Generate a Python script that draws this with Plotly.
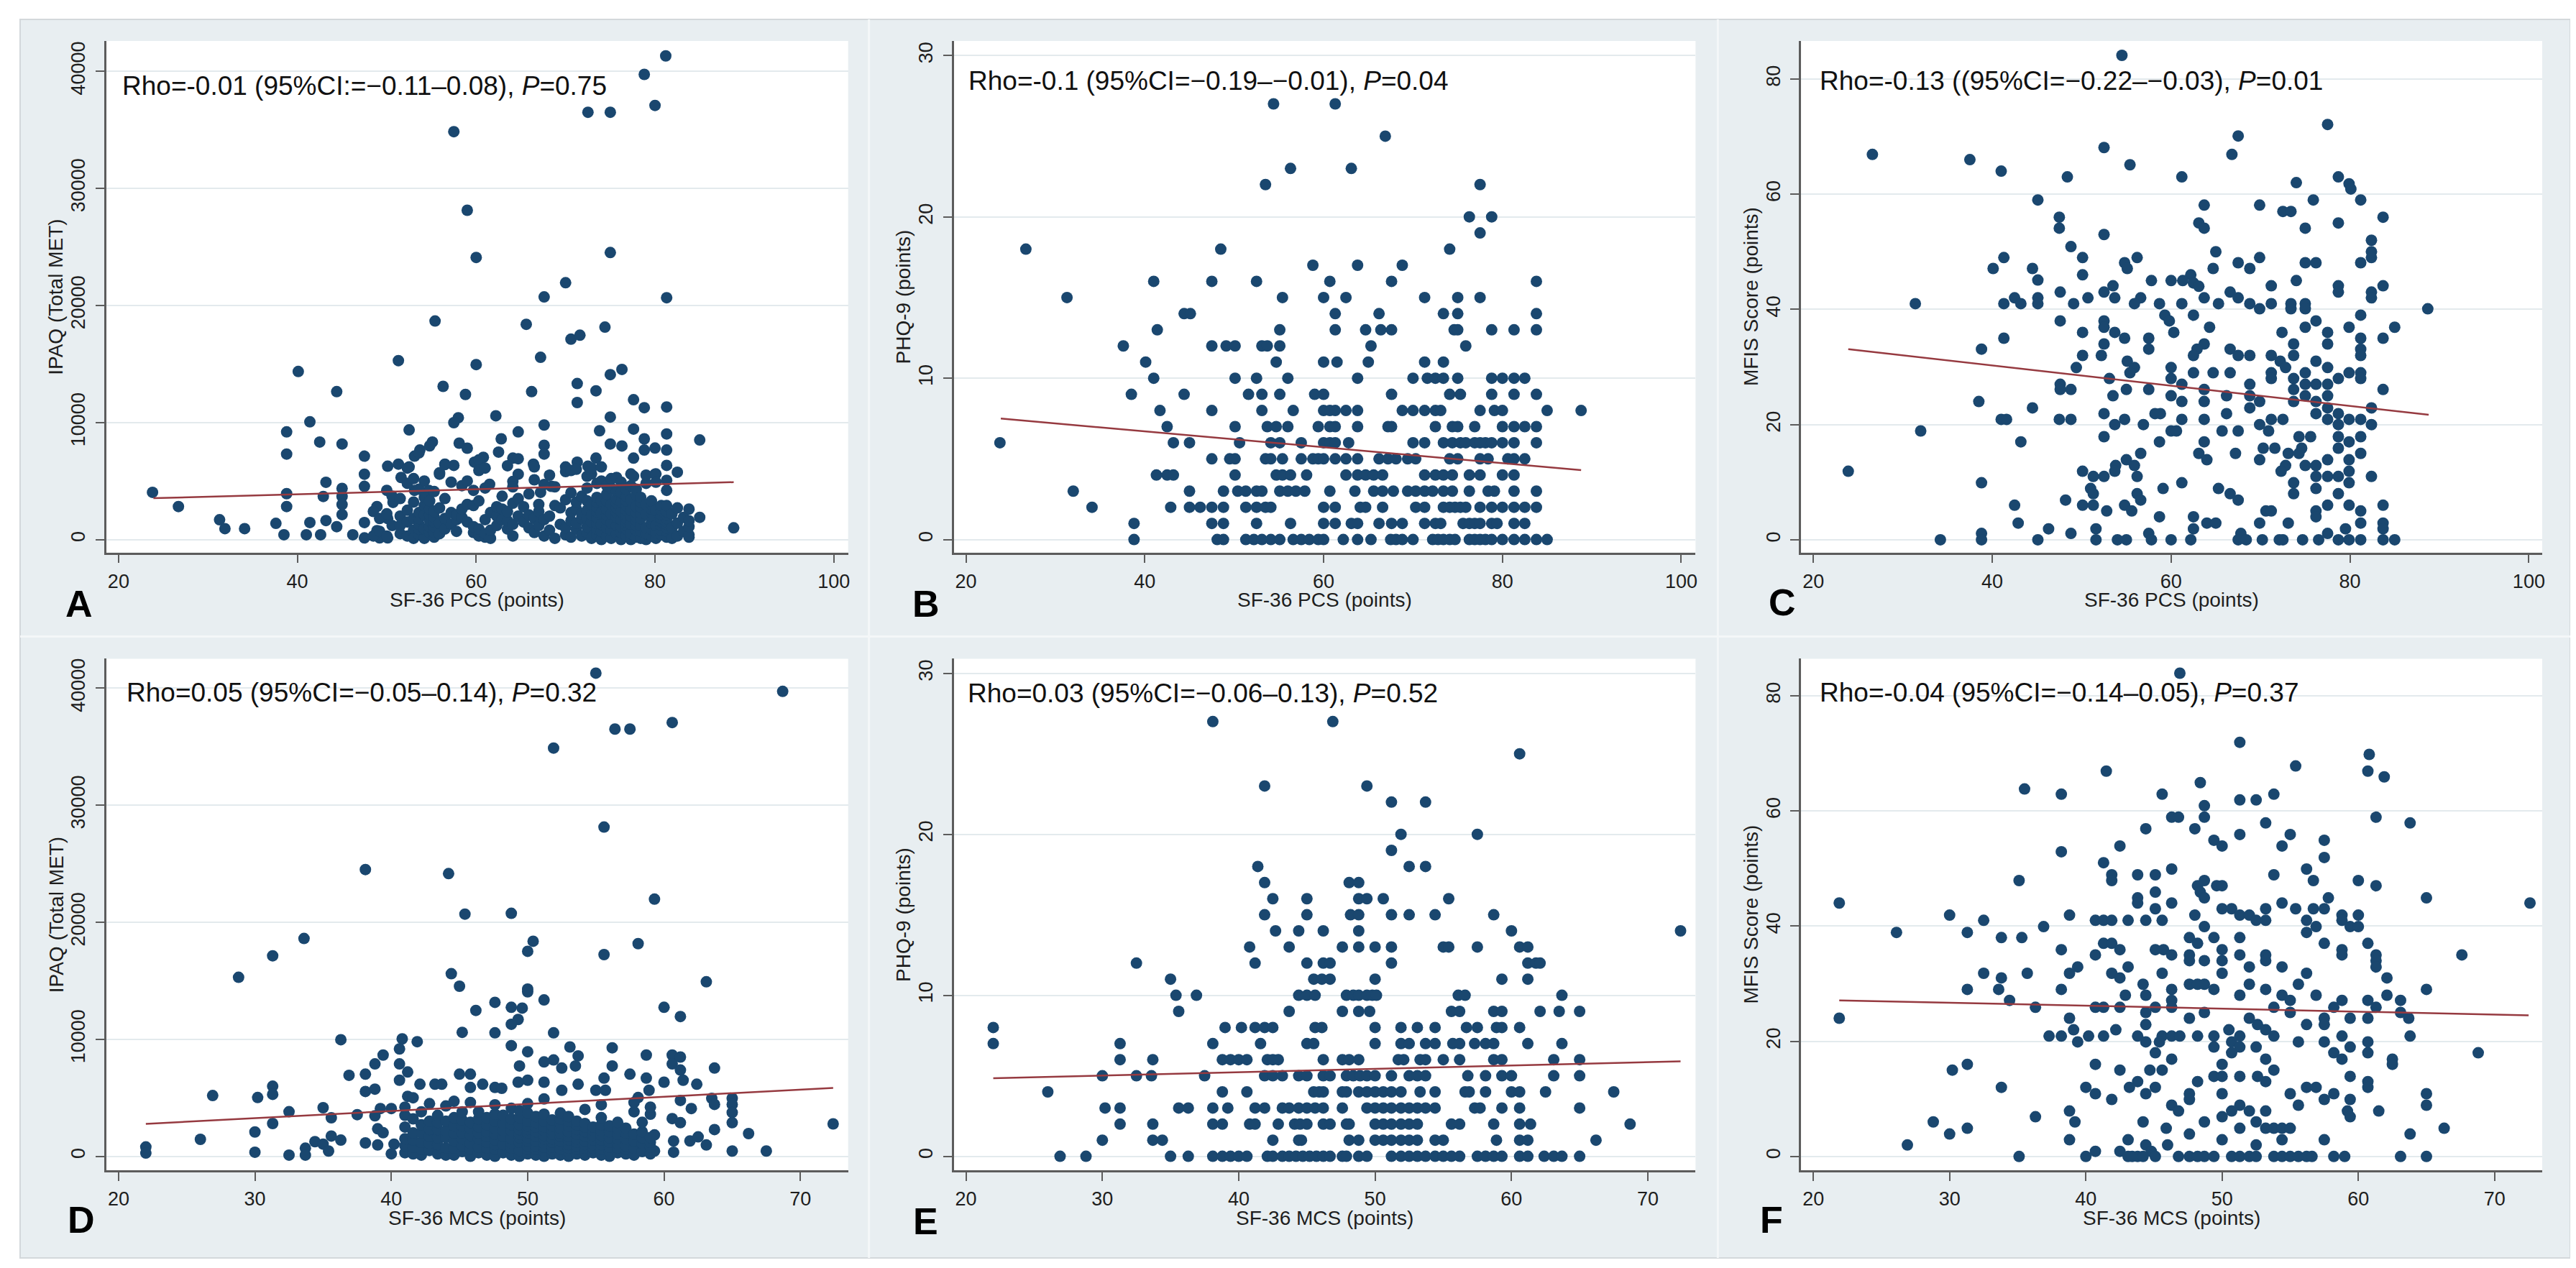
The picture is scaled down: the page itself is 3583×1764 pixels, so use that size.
import plotly.graph_objects as go

W, H = 3583, 1764

NAVY = "#1a476f"
MAROON = "#963a40"
PANEL_BG = "#e8eef1"
FONT = "Liberation Sans, Arial, sans-serif"

# ---------------- data ----------------
pcs_ticks = [20, 40, 60, 80, 100]
mcs_ticks = [20, 30, 40, 50, 60, 70]
ipaq_ticks = [0, 10000, 20000, 30000, 40000]
phq_ticks = [0, 10, 20, 30]
mfis_ticks = [0, 20, 40, 60, 80]

# A: IPAQ vs SF-36 PCS (isolated points)
a_pts = [(81.2, 41300), (78.8, 39720), (80.0, 37070), (72.5, 36490), (75.0, 36490), (57.5, 34830),
         (59.0, 28120), (60.0, 24090), (75.0, 24510), (70.0, 21930), (67.6, 20720), (81.3, 20650),
         (55.4, 18660), (65.6, 18380), (74.4, 18140), (70.6, 17110), (71.6, 17450), (67.2, 15560),
         (51.3, 15280), (60.0, 14940), (40.1, 14350), (76.3, 14530), (75.0, 14080), (71.3, 13320),
         (56.3, 13080), (44.4, 12630), (66.2, 12630), (73.4, 12700), (58.8, 12390), (77.6, 11940),
         (71.3, 11700), (78.8, 11260), (81.3, 11320), (41.4, 10050), (62.2, 10570), (58.0, 10400),
         (57.5, 9980), (75.0, 10460), (67.6, 9780), (38.8, 9190), (52.5, 9360), (64.7, 9190),
         (73.8, 9290), (77.6, 9430), (81.3, 9020), (85.0, 8500), (42.5, 8330), (45.0, 8160),
         (55.1, 8330), (58.1, 8230), (62.8, 8600), (67.6, 8050), (75.0, 8160), (76.3, 7990),
         (78.8, 8600), (80.0, 7810), (81.3, 7640), (38.8, 7300), (47.5, 7120), (53.7, 7640),
         (53.1, 7120), (62.5, 7470), (64.1, 6950), (60.8, 7020), (73.4, 6950), (77.6, 6950),
         (78.8, 7640), (50.1, 6260), (51.3, 6440), (52.5, 6200), (56.5, 6440), (57.5, 6330),
         (59.8, 6610), (66.4, 6440), (70.0, 6200), (71.3, 6610), (72.5, 6260), (81.3, 6330),
         (47.5, 5580), (51.6, 5300), (55.9, 5580), (64.7, 5580), (82.5, 5750), (80.0, 5580),
         (43.2, 4890), (47.5, 4540), (45.0, 4370), (61.5, 4720), (64.1, 4960), (75.0, 5060),
         (77.6, 5400), (81.3, 5060), (81.3, 4200), (38.8, 3920), (23.8, 4030), (42.9, 3680),
         (45.0, 3680), (53.1, 4200), (54.7, 4200), (67.2, 4030), (68.4, 4540), (38.8, 2820),
         (26.7, 2820), (48.9, 2820), (31.3, 1690), (31.9, 930), (34.1, 930), (37.6, 1380),
         (38.5, 410), (41.4, 1450), (41.0, 410), (42.6, 410), (43.2, 1620), (45.0, 2130),
         (44.4, 1100), (45.0, 2990), (46.2, 410), (47.5, 1450), (47.5, 140), (48.9, 760),
         (49.2, 140), (50.1, 140), (50.1, 1790), (50.7, 3170), (88.8, 1000), (85.0, 1900),
         (48.5, 300), (48.5, 2400), (49.2, 700), (49.2, 1800), (50.0, 300), (50.0, 4200),
         (50.0, 2200), (50.6, 1200), (50.6, 3700)]
# A: the dense band, PCS -> IPAQ values
a_band = {51.5: [500, 2000, 3500, 1200], 52.3: [300, 1500, 2500, 4800, 6100],
          53.0: [800, 1800, 3200, 5200, 100], 53.6: [400, 900, 1300, 1800, 2300, 4300, 7400],
          54.2: [100, 900, 2100, 2900, 3600, 5000], 54.8: [600, 1100, 1600, 2100, 2600, 3300, 8000],
          55.3: [200, 600, 1100, 1500, 1900, 2400, 4100], 55.9: [500, 1400, 2700, 5700],
          56.5: [900, 1800, 3500, 6400],
          57.2: [1300, 2300, 4900], 57.8: [700, 1700, 2100], 58.4: [1900, 2600, 4600],
          59.0: [1500, 3000, 5000, 7800], 59.7: [600, 1100, 2900, 4200], 60.3: [300, 900, 3300, 6800, 5900],
          61.0: [200, 500, 1700, 4400, 6100], 61.6: [100, 800, 2300], 62.3: [1200, 2000, 2800],
          62.9: [1700, 2600, 3700], 63.5: [900, 1600, 2400, 6300], 64.1: [300, 1300, 3100, 4500],
          64.7: [2000, 3500, 6900], 65.3: [1500, 2800], 65.9: [1000, 2100, 3900],
          66.5: [600, 1800, 5100, 6200], 67.0: [1200, 2400, 3000], 67.6: [300, 1700, 4700, 7300],
          68.2: [800, 2000, 5500], 68.8: [100, 2900, 4500], 69.4: [1300, 2700],
          70.0: [400, 1000, 3400, 5800], 70.6: [200, 1600, 2300, 4000, 5900],
          71.2: [900, 1400, 2600, 3200, 6000], 71.8: [300, 1800, 2200, 3700],
          72.4: [600, 1100, 1800, 2500, 3300, 4400, 5400], 72.9: [100, 1500, 2100, 3000, 5600, 6100],
          73.5: [400, 900, 1400, 1900, 2400, 2800, 3200, 3600, 4800],
          74.0: [0, 700, 1300, 2300, 3300, 5000, 6200],
          74.6: [300, 1000, 1700, 2100, 2600, 3300, 3900, 4600],
          75.1: [100, 800, 1400, 2200, 3000, 4400, 5200],
          75.7: [500, 1200, 1900, 2300, 2700, 3100, 3500, 4100, 5300],
          76.2: [0, 600, 1100, 1700, 2400, 3200, 4000, 4900],
          76.8: [300, 900, 1200, 1500, 1800, 2100, 2500, 2900, 3300, 3700, 4300],
          77.3: [0, 500, 1300, 2000, 2500, 3400, 5600, 4600],
          77.9: [200, 800, 1200, 1600, 1900, 2300, 2800, 3800, 4300],
          78.4: [100, 700, 1200, 1800, 2300, 2800, 3200, 3600],
          79.0: [0, 500, 1000, 2200, 3000, 4800, 5500],
          79.6: [300, 900, 1400, 1700, 2000, 2300, 2600, 3000, 3300],
          80.1: [100, 600, 1200, 2500, 5600, 4900], 80.7: [400, 800, 1200, 1500, 1800, 2100, 2500, 2900],
          81.3: [200, 700, 1000, 1300, 1500, 1800, 2100, 2400, 2900], 81.9: [100, 1000, 2200],
          82.5: [300, 1400, 2700], 83.2: [700, 1900], 83.8: [200, 400, 1100, 2600, 1600]}
a_fit_x = [23.9, 88.8]
a_fit_y = [3530, 4900]

# B: PHQ-9 vs SF-36 PCS, PHQ-9 score -> PCS values
b_rows = {27: [54.4, 61.3], 25: [66.9], 23: [56.3, 63.1], 22: [53.5, 77.5], 20: [76.3, 78.8],
          19: [77.5], 18: [26.7, 48.5, 74.1], 17: [58.8, 63.8, 68.8],
          16: [41.0, 47.5, 52.5, 60.7, 67.6, 83.8], 15: [31.3, 55.4, 60.0, 62.5, 71.3, 75.0, 77.5],
          14: [44.4, 45.1, 61.3, 66.2, 73.4, 75.0, 83.8],
          13: [41.4, 55.1, 61.3, 64.7, 66.4, 67.6, 74.6, 75.0, 78.8, 81.3, 83.8],
          12: [37.6, 47.5, 49.1, 50.1, 53.1, 53.7, 55.1, 65.3, 75.9],
          11: [40.1, 54.7, 60.0, 61.5, 65.0, 71.3, 73.4],
          10: [41.0, 50.1, 52.5, 56.0, 63.8, 70.0, 71.6, 72.5, 73.4, 75.0, 78.8, 80.0, 81.3, 82.5],
          9: [38.5, 44.4, 51.6, 53.1, 55.1, 59.0, 60.0, 67.6, 74.1, 75.3, 78.8, 81.3, 83.8],
          8: [41.7, 47.5, 53.1, 56.6, 60.0, 60.7, 61.3, 62.5, 63.8, 68.8, 70.0, 71.3, 72.5, 73.1,
              77.5, 79.1, 80.0, 85.0, 88.8],
          7: [42.5, 50.1, 53.7, 54.7, 56.0, 59.4, 60.7, 61.3, 63.8, 67.2, 67.6, 72.5, 74.4, 75.0,
              76.9, 80.0, 81.3, 82.5, 83.8],
          6: [23.8, 43.2, 45.0, 50.6, 54.1, 55.1, 57.5, 60.0, 60.7, 61.3, 62.8, 70.0, 71.3, 73.4,
              74.4, 75.3, 75.9, 76.9, 77.5, 78.1, 78.8, 80.0, 81.3, 83.8],
          5: [47.5, 49.5, 50.1, 53.5, 54.1, 55.4, 57.5, 58.8, 59.4, 60.0, 61.3, 62.5, 63.8, 66.2,
              67.2, 68.1, 69.4, 70.3, 74.1, 75.0, 77.5, 78.4, 80.6, 81.3, 82.5],
          4: [41.3, 42.5, 43.2, 50.1, 54.7, 55.4, 56.3, 58.1, 62.5, 63.8, 64.7, 65.6, 66.6, 71.3,
              72.5, 73.4, 74.4, 76.3, 77.5, 80.0, 81.3],
          3: [32.0, 45.0, 48.8, 50.4, 51.3, 52.5, 53.1, 55.1, 56.0, 56.9, 57.9, 60.7, 63.5, 65.6,
              66.6, 67.8, 69.4, 70.3, 71.3, 72.2, 73.4, 74.4, 76.3, 78.4, 79.1, 81.3, 83.8],
          2: [34.1, 42.9, 45.0, 46.2, 47.5, 48.8, 51.3, 52.5, 53.5, 54.1, 60.0, 61.3, 64.1, 64.7,
              66.6, 70.3, 71.3, 73.4, 74.1, 74.7, 75.3, 75.9, 77.5, 78.8, 80.0, 81.3, 82.5, 83.8],
          1: [38.8, 47.5, 48.8, 52.5, 56.3, 60.0, 61.3, 63.1, 63.8, 66.2, 67.6, 68.8, 71.3, 72.5,
              73.1, 75.6, 76.3, 76.9, 77.5, 78.8, 79.4, 81.3, 82.5],
          0: [38.8, 48.1, 48.8, 51.3, 52.2, 53.1, 54.1, 55.1, 56.6, 57.5, 58.4, 59.4, 60.0, 62.2,
              63.8, 65.3, 67.5, 68.1, 68.8, 70.0, 72.2, 72.8, 73.4, 74.1, 74.7, 76.3, 76.9, 77.5,
              78.1, 78.8, 80.0, 81.3, 82.5, 83.8, 85.0]}
b_fit_x = [23.9, 88.8]
b_fit_y = [7.5, 4.3]

# C: MFIS vs SF-36 PCS
c_pts = [(54.5, 84.1), (77.5, 72.1), (67.5, 70.1), (26.6, 66.9), (66.8, 66.9), (52.5, 68.1),
         (37.5, 66.0), (55.4, 65.1), (41.0, 64.0), (48.4, 63.0), (61.2, 63.0), (78.7, 63.0),
         (74.0, 62.0), (79.9, 61.8), (80.1, 60.9), (45.1, 59.0), (75.9, 59.0), (81.2, 59.0),
         (63.7, 58.1), (69.9, 58.1), (72.5, 57.0), (73.4, 57.0), (47.5, 56.0), (83.7, 56.0),
         (47.5, 54.1), (75.0, 54.1), (78.7, 55.0), (63.1, 55.0), (63.7, 54.1), (52.5, 53.0),
         (82.4, 52.0), (48.8, 50.9), (65.0, 50.0), (82.4, 50.0), (82.4, 49.0), (41.3, 49.0),
         (50.1, 49.0), (56.2, 49.0), (69.9, 49.0), (54.8, 48.1), (67.5, 48.1), (75.0, 48.1),
         (76.2, 48.1), (81.2, 48.1), (40.1, 47.1), (44.5, 47.1), (55.1, 47.1), (64.7, 47.1),
         (68.8, 47.1), (50.1, 46.0), (62.2, 46.0), (45.1, 45.1), (60.0, 45.0), (57.8, 45.0),
         (74.0, 45.0), (61.3, 45.0), (62.5, 44.6), (63.1, 44.0), (53.5, 44.1), (71.2, 44.1),
         (78.7, 44.1), (83.7, 44.1), (47.6, 43.0), (82.4, 43.0), (52.5, 43.0), (66.6, 43.0),
         (78.7, 43.0), (42.5, 42.0), (45.1, 42.0), (50.7, 42.0), (53.7, 42.0), (56.6, 42.0),
         (63.7, 42.0), (67.5, 42.0), (82.4, 42.0), (31.4, 41.0), (41.3, 41.0), (43.2, 41.0),
         (45.1, 41.0), (49.1, 41.0), (55.9, 41.0), (61.2, 41.0), (65.3, 41.0), (68.8, 41.0),
         (71.2, 41.0), (73.4, 41.0), (75.0, 41.0), (58.7, 41.0), (69.9, 40.1), (73.4, 40.1),
         (75.0, 40.1), (88.7, 40.1), (62.5, 39.0), (81.2, 39.0), (59.3, 39.0), (52.5, 38.0),
         (47.6, 38.0), (59.8, 38.0), (76.2, 38.0), (85.0, 36.9), (79.9, 36.9), (75.0, 36.9),
         (52.5, 36.9), (64.3, 36.9), (53.7, 36.0), (50.1, 36.0), (60.3, 36.0), (77.5, 36.0),
         (72.4, 36.0), (54.8, 35.0), (41.3, 35.0), (57.5, 35.0), (83.7, 35.0), (81.2, 35.0),
         (63.7, 34.0), (52.5, 34.0), (77.5, 34.0), (73.7, 34.0), (38.8, 33.1), (62.9, 33.1),
         (66.6, 33.1), (57.5, 33.1), (81.2, 33.1), (67.5, 32.0), (71.2, 32.0), (50.1, 32.0),
         (62.5, 32.0), (52.2, 32.0), (73.7, 32.0), (76.2, 31.0), (68.8, 32.0), (55.1, 31.0),
         (72.2, 31.0), (81.2, 32.0), (49.4, 29.9), (55.9, 29.9), (60.0, 29.9), (77.5, 29.9),
         (72.8, 29.9), (64.7, 29.0), (62.5, 29.0), (66.6, 29.0), (71.2, 29.0), (75.0, 29.0),
         (79.9, 29.0), (55.4, 29.0), (81.2, 29.0), (60.0, 28.0), (78.7, 28.0), (81.2, 28.0),
         (53.1, 28.0), (73.7, 28.0), (71.2, 28.0), (47.6, 27.0), (61.2, 27.0), (76.2, 27.0),
         (77.5, 27.0), (75.0, 27.0), (68.8, 27.0), (47.6, 26.1), (48.8, 26.1), (55.0, 26.1),
         (57.5, 26.1), (63.7, 26.1), (83.7, 26.1), (73.7, 26.1), (53.5, 25.0), (60.0, 25.0),
         (66.2, 25.0), (77.5, 25.0), (68.8, 25.0), (75.0, 25.0), (69.9, 24.0), (61.2, 24.0),
         (63.7, 24.0), (38.5, 24.0), (73.7, 24.0), (76.2, 24.0), (77.5, 22.9), (44.5, 22.9),
         (68.8, 22.9), (82.4, 22.9), (58.2, 21.9), (58.8, 21.9), (66.2, 21.9), (76.2, 21.9),
         (78.7, 21.9), (52.5, 21.9), (41.0, 20.9), (41.6, 20.9), (47.5, 20.9), (48.8, 20.9),
         (54.8, 20.9), (61.2, 20.9), (63.7, 20.9), (71.2, 20.9), (72.5, 20.9), (77.5, 20.9),
         (79.9, 20.9), (81.2, 20.9), (53.7, 20.0), (69.9, 20.0), (78.7, 20.0), (82.4, 20.0),
         (56.9, 20.0), (60.0, 18.9), (60.6, 18.9), (65.7, 18.9), (67.5, 18.9), (70.9, 18.9),
         (32.0, 18.9), (78.7, 17.9), (81.2, 17.9), (52.5, 17.9), (74.3, 17.9), (75.6, 17.9),
         (43.2, 17.0), (58.7, 17.0), (63.7, 17.0), (79.9, 17.0), (70.3, 15.9), (71.6, 15.9),
         (74.6, 15.9), (78.7, 15.9), (63.1, 15.0), (56.6, 15.0), (67.2, 15.0), (73.1, 15.0),
         (74.3, 15.0), (81.2, 15.0), (64.0, 13.9), (55.0, 13.9), (69.9, 13.9), (77.5, 13.9),
         (79.9, 13.9), (53.8, 12.9), (55.9, 12.9), (72.8, 12.9), (75.0, 12.9), (76.2, 12.9),
         (23.9, 11.9), (50.1, 11.9), (53.7, 11.9), (72.3, 11.9), (79.9, 11.9), (76.2, 11.0),
         (52.5, 11.0), (56.2, 11.0), (82.4, 11.0), (51.3, 11.0), (77.5, 11.0), (78.7, 11.0),
         (38.8, 9.9), (61.2, 9.9), (73.7, 9.9), (79.9, 9.9), (59.1, 8.9), (65.3, 8.9),
         (51.0, 8.9), (76.2, 8.9), (73.7, 8.0), (66.6, 8.0), (56.2, 8.0), (78.7, 8.0),
         (48.2, 6.9), (67.5, 6.9), (56.6, 6.9), (51.3, 8.0), (42.5, 6.0), (50.1, 6.0),
         (51.3, 6.0), (54.8, 6.0), (77.5, 6.0), (79.9, 6.0), (83.7, 6.0), (52.8, 5.0),
         (55.6, 5.0), (70.6, 5.0), (71.2, 5.0), (76.2, 5.0), (81.2, 5.0), (58.7, 4.0),
         (62.5, 4.0), (76.2, 4.0), (42.9, 2.9), (64.0, 2.9), (65.0, 2.9), (69.9, 2.9),
         (73.1, 2.9), (81.2, 2.9), (83.7, 2.9), (46.3, 1.9), (51.6, 1.9), (62.5, 1.9),
         (79.5, 1.9), (83.7, 1.9), (38.8, 1.1), (48.8, 1.1), (57.5, 1.1), (67.8, 1.1),
         (77.5, 1.1), (34.2, 0), (38.8, 0), (45.1, 0), (51.6, 0), (54.0, 0), (55.0, 0),
         (57.8, 0), (60.0, 0), (62.2, 0), (67.5, 0), (68.4, 0), (70.2, 0), (72.1, 0), (72.5, 0),
         (74.7, 0), (76.5, 0), (78.7, 0), (79.9, 0), (81.2, 0), (83.7, 0), (85.0, 0)]
c_fit_x = [23.9, 88.8]
c_fit_y = [33.1, 21.7]

# D: IPAQ vs SF-36 MCS (isolated points)
d_pts = [(55.0, 41280), (68.7, 39720), (60.6, 37060), (56.4, 36500), (57.5, 36500), (51.9, 34880),
         (55.6, 28130), (38.1, 24500), (44.2, 24150), (59.3, 21970), (45.4, 20690), (48.8, 20760),
         (33.6, 18610), (50.4, 18370), (58.1, 18170), (50.0, 17510), (55.6, 17230), (31.3, 17130),
         (28.8, 15290), (63.1, 14910), (44.4, 15600), (45.0, 14530), (50.0, 14290), (50.0, 14050),
         (51.2, 13360), (47.6, 13150), (46.2, 12460), (48.8, 12730), (49.6, 12660), (60.0, 12730),
         (61.2, 11940), (49.3, 11690), (48.8, 11280), (36.3, 9960), (40.8, 10030), (41.9, 9790),
         (45.2, 10590), (47.6, 10550), (51.9, 10550), (48.8, 9450), (53.1, 9340), (56.2, 9270),
         (40.6, 9170), (50.0, 8930), (39.4, 8650), (58.7, 8650), (60.6, 8650), (61.2, 8480),
         (53.7, 8580), (51.9, 8230), (38.8, 7890), (40.6, 7890), (49.4, 7720), (51.2, 8060),
         (56.2, 7720), (60.6, 7890), (63.7, 7540), (52.5, 7540), (53.5, 7720), (36.9, 6920),
         (38.1, 7020), (41.2, 7200), (45.0, 7020), (45.8, 7020), (57.5, 7020), (61.2, 7370),
         (58.7, 6680), (40.6, 6500), (55.6, 6680), (50.0, 6500), (51.2, 6330), (60.0, 6330),
         (61.4, 6500), (62.4, 6160), (31.3, 5990), (31.3, 5290), (38.1, 5540), (38.8, 5740),
         (42.1, 6160), (43.2, 6160), (43.7, 6160), (45.8, 5880), (46.7, 6160), (47.6, 5880),
         (48.1, 5810), (49.3, 6330), (52.5, 5640), (53.7, 6160), (55.0, 5640), (55.7, 5640),
         (58.9, 5640), (26.9, 5190), (30.2, 5020), (58.1, 5020), (41.2, 5120), (61.2, 4770),
         (63.5, 4950), (63.7, 4430), (65.0, 4950), (65.0, 4430), (65.0, 3740), (65.0, 2870),
         (65.0, 450), (66.2, 1940), (67.5, 450), (72.4, 2770), (35.0, 4150), (35.6, 3290),
         (32.5, 3810), (37.5, 3560), (39.2, 4080), (38.8, 3460), (40.0, 4080), (31.3, 2800),
         (30.0, 2080), (26.0, 1450), (22.0, 800), (22.0, 280), (30.0, 350), (32.5, 100),
         (33.7, 690), (33.7, 100), (34.4, 1250), (35.0, 1040), (35.6, 1730), (35.4, 450),
         (36.3, 1380), (38.1, 1140), (39.0, 2350), (39.0, 970), (39.4, 2010), (40.2, 1040),
         (40.0, 210), (60.7, 1310), (60.7, 350), (61.9, 1310), (63.1, 970), (62.0, 4080),
         (63.7, 2280), (62.5, 1660), (60.6, 3220), (61.2, 2870), (59.3, 1830), (59.3, 450)]
# D: the dense band, MCS -> IPAQ values
d_band = {41.0: [300, 900, 1500, 2500, 3500, 4200], 41.6: [200, 800, 1400, 2000, 3200, 5000],
          42.2: [100, 600, 1200, 2000, 2700, 3800], 42.8: [500, 1100, 1700, 2300, 3000, 4500],
          43.4: [200, 1000, 1600, 2300, 2900, 3500], 44.0: [100, 700, 1600, 2200, 3000, 4300],
          44.6: [100, 700, 1300, 2000, 2600, 3300, 4700], 45.2: [400, 900, 1500, 2000, 2600, 3100, 3800],
          45.8: [0, 600, 1100, 1800, 2400, 2900, 4600], 46.4: [300, 800, 1500, 2000, 2500, 3200, 3800],
          47.0: [100, 700, 1200, 1700, 2100, 2700, 3300],
          47.6: [0, 600, 1000, 1400, 1900, 2400, 3000, 3600, 4400],
          48.2: [300, 1000, 1700, 2200, 2800, 3500],
          48.8: [100, 700, 1100, 1500, 2200, 2700, 3200, 4100],
          49.4: [0, 500, 1200, 1600, 1900, 2300, 2700, 3300, 3900],
          50.0: [200, 600, 900, 1300, 1600, 2000, 2300, 2600, 3000, 3700, 4500],
          50.6: [100, 600, 900, 1300, 1700, 2100, 2500, 2900, 3400],
          51.2: [0, 400, 800, 1100, 1500, 1800, 2200, 2500, 3000, 3600, 4900],
          51.8: [200, 500, 800, 1200, 1500, 1900, 2200, 2600, 3100],
          52.4: [100, 600, 1000, 1300, 1700, 2000, 2400, 2800, 3200, 3700],
          53.0: [0, 400, 700, 1000, 1400, 1700, 2100, 2600, 3000, 3400],
          53.6: [200, 600, 900, 1200, 1500, 1900, 2300, 2700, 3000],
          54.2: [100, 400, 700, 1000, 1300, 1700, 2100, 2500, 2800, 4000],
          54.8: [300, 700, 1000, 1400, 1800, 2200, 2500],
          55.4: [100, 600, 1000, 1400, 1800, 2200, 2700, 3300, 4400],
          56.0: [0, 400, 800, 1200, 1600, 2100, 2600], 56.6: [300, 700, 1100, 1500, 1900, 2400, 2900],
          57.2: [200, 600, 900, 1500, 2000, 2400], 57.8: [100, 700, 1300, 1900, 3800, 4600],
          58.4: [400, 1100, 1600, 2100, 2900], 59.0: [200, 800, 1200, 1600, 3600, 4200]}
d_fit_x = [22.0, 72.4]
d_fit_y = [2770, 5840]

# E: PHQ-9 vs SF-36 MCS, PHQ-9 score -> MCS values
e_rows = {27: [38.1, 46.9], 25: [60.6], 23: [41.9, 49.4], 22: [51.2, 53.7], 20: [51.9, 57.5],
          19: [51.2], 18: [41.4, 52.5, 53.7], 17: [41.9, 48.1, 48.8],
          16: [42.5, 45.0, 48.8, 49.4, 50.6, 55.4],
          15: [41.9, 45.0, 48.2, 48.8, 51.2, 52.5, 54.4, 58.7],
          14: [42.7, 44.4, 46.2, 48.8, 60.0, 72.4],
          13: [40.8, 43.7, 47.6, 48.8, 50.0, 51.2, 55.0, 55.4, 57.5, 60.6, 61.2],
          12: [32.5, 41.2, 45.0, 46.2, 46.7, 51.2, 61.2, 61.8, 62.1],
          11: [35.0, 45.5, 46.1, 46.7, 50.0, 59.3, 61.2],
          10: [35.4, 36.9, 44.4, 45.0, 45.6, 47.9, 48.4, 48.8, 49.4, 49.8, 50.1, 56.1, 56.6, 63.7],
          9: [35.6, 43.7, 47.6, 48.8, 49.6, 55.6, 56.2, 58.7, 59.3, 62.1, 63.5, 65.0],
          8: [22.0, 39.0, 40.2, 41.2, 41.9, 42.5, 45.6, 46.1, 50.0, 51.9, 53.1, 54.4, 56.7, 57.5,
              58.9, 59.3, 60.6],
          7: [22.0, 31.3, 38.1, 41.6, 45.0, 45.5, 50.0, 51.9, 52.5, 53.7, 54.4, 55.7, 56.2, 57.3,
              58.1, 58.7, 61.2, 63.7],
          6: [31.3, 33.7, 38.8, 39.4, 40.0, 40.6, 42.1, 42.5, 42.9, 46.2, 47.6, 48.1, 48.8, 51.7,
              52.1, 53.3, 53.7, 55.0, 56.2, 58.7, 59.3, 63.1, 65.0],
          5: [30.0, 32.5, 33.6, 37.5, 41.9, 42.5, 43.2, 44.4, 45.0, 46.2, 46.7, 47.9, 48.4, 48.9,
              49.4, 50.0, 51.2, 52.5, 53.1, 53.7, 56.8, 58.1, 59.3, 60.0, 63.1, 65.0],
          4: [26.0, 38.8, 40.6, 45.5, 45.9, 46.2, 47.6, 47.9, 48.8, 49.4, 50.0, 50.6, 51.2, 51.9,
              53.3, 54.4, 56.6, 56.9, 58.1, 60.0, 60.6, 62.5, 67.5],
          3: [30.2, 31.3, 35.6, 36.3, 38.1, 39.2, 41.2, 41.9, 43.2, 43.7, 44.4, 45.0, 45.6, 46.2,
              47.6, 49.4, 50.0, 50.6, 51.2, 51.9, 52.5, 53.1, 53.7, 54.4, 57.3, 57.7, 59.3, 60.6,
              65.0],
          2: [31.3, 33.7, 38.1, 38.8, 40.8, 41.2, 42.9, 44.1, 44.5, 45.0, 46.2, 46.7, 47.9, 48.1,
              50.0, 50.6, 51.2, 51.9, 52.5, 53.1, 55.6, 56.2, 58.7, 60.6, 61.4, 68.7],
          1: [30.0, 33.7, 34.4, 42.5, 44.4, 44.6, 48.1, 48.8, 50.0, 50.6, 51.2, 51.9, 52.5, 53.1,
              54.4, 55.0, 58.9, 60.6, 61.2, 66.2],
          0: [26.9, 28.8, 35.0, 36.3, 38.1, 38.8, 39.4, 40.0, 40.6, 42.1, 42.5, 43.2, 43.7, 44.2,
              44.7, 45.2, 45.7, 46.2, 46.7, 47.6, 47.9, 48.8, 49.4, 51.2, 51.9, 52.5, 53.1, 53.7,
              54.4, 55.0, 55.6, 56.2, 57.5, 58.1, 58.7, 59.3, 60.6, 61.2, 62.4, 63.1, 63.7, 65.0]}
e_fit_x = [22.0, 72.4]
e_fit_y = [4.85, 5.9]

# F: MFIS vs SF-36 MCS
f_pts = [(46.9, 83.9), (51.3, 71.9), (60.8, 69.8), (55.4, 67.8), (41.5, 66.9), (60.7, 66.9),
         (61.9, 65.9), (48.4, 64.9), (35.5, 63.8), (38.2, 62.9), (45.6, 62.9), (53.8, 62.9),
         (51.3, 61.9), (52.5, 61.9), (48.7, 60.9), (46.3, 58.9), (46.8, 58.9), (48.7, 58.9),
         (61.3, 58.9), (53.2, 57.9), (63.8, 57.9), (44.4, 56.9), (48.0, 56.9), (51.3, 55.9),
         (55.0, 55.9), (49.4, 54.9), (57.5, 54.9), (42.5, 53.9), (50.0, 53.9), (54.4, 53.9),
         (38.2, 52.9), (57.5, 51.9), (41.3, 51.0), (46.3, 49.9), (56.2, 49.9), (41.9, 48.9),
         (43.8, 48.9), (45.1, 48.9), (53.8, 48.9), (41.9, 47.9), (35.1, 47.9), (56.7, 47.9),
         (60.0, 47.9), (48.2, 47.0), (48.7, 47.9), (49.6, 47.0), (50.0, 47.0), (61.3, 47.0),
         (45.1, 45.9), (48.4, 45.9), (43.8, 44.9), (57.8, 44.9), (65.0, 44.9), (46.3, 44.0),
         (48.7, 44.9), (43.8, 44.0), (21.9, 44.0), (72.6, 44.0), (54.4, 44.0), (45.1, 43.0),
         (50.0, 43.0), (50.7, 43.0), (53.2, 43.0), (55.4, 43.0), (56.7, 43.0), (57.5, 43.0),
         (51.3, 41.9), (52.0, 41.9), (58.8, 41.9), (60.0, 41.9), (30.0, 41.9), (38.8, 41.9),
         (48.0, 41.9), (32.5, 41.0), (40.7, 41.0), (41.3, 41.0), (41.9, 41.0), (43.1, 41.0),
         (44.4, 41.0), (45.6, 41.0), (52.5, 41.0), (53.2, 41.0), (58.8, 41.0), (56.2, 41.0),
         (36.9, 39.9), (48.7, 39.9), (59.4, 39.9), (60.0, 39.9), (56.9, 39.9), (26.1, 38.9),
         (31.3, 38.9), (56.2, 38.9), (33.8, 38.0), (35.3, 38.0), (47.6, 38.0), (51.3, 38.0),
         (49.4, 38.0), (41.3, 37.0), (41.9, 37.0), (48.2, 37.0), (57.5, 37.0), (60.7, 37.0),
         (38.2, 35.9), (42.5, 35.9), (45.1, 35.9), (50.0, 35.9), (45.7, 35.9), (58.8, 35.9),
         (51.3, 35.0), (53.2, 35.0), (67.6, 35.0), (46.3, 35.0), (47.6, 35.0), (61.3, 35.0),
         (40.7, 35.0), (47.6, 34.0), (50.0, 34.0), (53.2, 34.0), (58.8, 35.0), (48.7, 34.0),
         (61.3, 34.0), (39.4, 32.9), (43.1, 32.9), (54.4, 32.9), (52.0, 32.9), (61.3, 32.9),
         (32.5, 31.8), (35.7, 31.8), (38.8, 31.8), (41.9, 31.8), (45.6, 31.8), (50.0, 31.8),
         (56.2, 31.8), (33.8, 31.0), (42.5, 31.0), (62.1, 31.0), (44.2, 29.9), (47.6, 29.9),
         (48.2, 29.9), (52.0, 29.9), (55.6, 29.9), (48.7, 29.9), (31.3, 29.0), (33.6, 29.0),
         (38.2, 29.0), (49.4, 29.0), (53.2, 29.0), (65.0, 29.0), (46.3, 29.0), (51.3, 28.0),
         (56.9, 28.0), (62.1, 28.0), (42.9, 28.0), (54.4, 28.0), (44.4, 28.0), (34.4, 27.1),
         (46.3, 27.1), (55.0, 27.1), (58.8, 27.1), (60.7, 27.1), (63.1, 27.1), (36.3, 25.9),
         (40.7, 25.9), (41.3, 25.9), (42.5, 25.9), (45.1, 25.9), (53.8, 25.9), (58.2, 25.9),
         (61.3, 25.9), (46.3, 25.9), (44.4, 25.0), (48.7, 25.0), (55.0, 25.0), (63.1, 25.0),
         (21.9, 24.0), (38.8, 24.0), (47.6, 24.0), (59.4, 24.0), (60.7, 24.0), (52.0, 24.0),
         (63.7, 24.0), (57.5, 24.0), (44.4, 22.9), (56.2, 22.9), (57.5, 22.9), (52.6, 22.9),
         (42.2, 22.0), (39.1, 22.0), (50.5, 22.0), (53.2, 22.0), (53.8, 20.9), (37.3, 20.9),
         (38.2, 20.9), (40.2, 20.9), (41.3, 20.9), (43.8, 20.9), (45.6, 20.9), (46.3, 20.9),
         (46.9, 20.9), (48.2, 20.9), (49.4, 20.9), (51.3, 20.9), (58.8, 20.9), (63.8, 20.9),
         (39.4, 19.9), (44.4, 19.9), (45.4, 19.9), (57.5, 19.9), (60.7, 19.9), (50.7, 19.9),
         (55.6, 19.9), (51.3, 19.0), (49.4, 19.0), (52.5, 19.0), (59.4, 19.0), (45.1, 18.0),
         (50.7, 18.0), (68.8, 18.0), (58.2, 18.0), (60.7, 18.0), (46.3, 16.9), (53.2, 16.9),
         (58.8, 16.9), (62.5, 16.9), (31.3, 16.0), (40.7, 16.0), (50.0, 16.0), (62.5, 16.0),
         (30.2, 15.0), (42.5, 15.0), (44.7, 15.0), (45.6, 15.0), (53.8, 15.0), (49.4, 13.9),
         (50.0, 13.9), (51.3, 13.9), (52.6, 13.9), (59.4, 13.9), (43.8, 13.0), (48.2, 13.0),
         (53.2, 13.0), (60.7, 13.0), (33.8, 12.0), (40.0, 12.0), (43.2, 12.0), (45.1, 12.0),
         (56.2, 12.0), (56.9, 12.0), (60.7, 12.0), (40.7, 10.9), (44.4, 10.9), (47.6, 10.9),
         (50.0, 10.9), (55.0, 10.9), (58.2, 10.9), (65.0, 10.9), (41.9, 9.9), (47.6, 9.9),
         (57.5, 9.9), (59.4, 9.9), (46.3, 8.9), (51.3, 8.9), (55.6, 8.9), (65.0, 8.9),
         (38.8, 7.9), (46.8, 7.9), (50.7, 7.9), (52.0, 7.9), (53.2, 7.9), (61.5, 7.9),
         (59.2, 7.9), (36.3, 6.9), (50.0, 6.9), (59.4, 6.9), (28.8, 6.0), (39.2, 6.0),
         (44.2, 6.0), (48.7, 6.0), (52.5, 6.0), (53.2, 4.9), (53.8, 4.9), (54.4, 4.9),
         (55.0, 4.9), (31.3, 4.9), (51.3, 4.9), (45.9, 4.9), (66.3, 4.9), (30.0, 3.9),
         (47.6, 3.9), (63.8, 3.9), (38.8, 2.9), (43.1, 2.9), (50.0, 2.9), (54.4, 2.9),
         (57.5, 2.9), (26.9, 2.0), (44.4, 2.0), (46.0, 2.0), (52.5, 2.0), (40.7, 0.9),
         (42.5, 0.9), (44.8, 0.9), (35.1, 0), (40.0, 0), (43.1, 0), (43.4, 0), (43.8, 0),
         (44.2, 0), (45.1, 0), (46.8, 0), (47.6, 0), (48.2, 0), (48.7, 0), (49.4, 0), (50.7, 0),
         (51.3, 0), (52.0, 0), (52.5, 0), (53.8, 0), (54.4, 0), (55.0, 0), (55.6, 0), (56.2, 0),
         (56.6, 0), (58.2, 0), (59.0, 0), (63.1, 0), (65.0, 0)]
f_fit_x = [21.9, 72.5]
f_fit_y = [27.1, 24.5]


def from_pairs(pts, band=None):
    xs = [p[0] for p in pts]
    ys = [p[1] for p in pts]
    for bx, bys in (band or {}).items():
        xs += [bx] * len(bys)
        ys += bys
    return xs, ys


def from_rows(rows):
    xs, ys = [], []
    for level, vals in rows.items():
        xs += vals
        ys += [level] * len(vals)
    return xs, ys


a_x, a_y = from_pairs(a_pts, a_band)
b_x, b_y = from_rows(b_rows)
c_x, c_y = from_pairs(c_pts)
d_x, d_y = from_pairs(d_pts, d_band)
e_x, e_y = from_rows(e_rows)
f_x, f_y = from_pairs(f_pts)

# ---------------- panel layout (pixels) ----------------
panels = [
    dict(letter="A", x=a_x, y=a_y, fx=a_fit_x, fy=a_fit_y, box=(140, 1173, 48, 760),
         xr=[18.63, 101.6], yr=[-1104, 42577], xt=pcs_ticks, yt=ipaq_ticks,
         xtitle="SF-36 PCS (points)", ytitle="IPAQ (Total MET)",
         rho="Rho=-0.01 (95%CI:=\u22120.11\u20130.08), <i>P</i>=0.75", rho_at=(160, 111), letter_at=(102, 831)),
    dict(letter="B", x=b_x, y=b_y, fx=b_fit_x, fy=b_fit_y, box=(1320, 2353, 48, 760),
         xr=[18.63, 101.6], yr=[-0.8, 30.9], xt=pcs_ticks, yt=phq_ticks,
         xtitle="SF-36 PCS (points)", ytitle="PHQ-9 (points)",
         rho="Rho=-0.1 (95%CI=\u22120.19\u2013\u22120.01), <i>P</i>=0.04", rho_at=(1338, 104), letter_at=(1281, 831)),
    dict(letter="C", x=c_x, y=c_y, fx=c_fit_x, fy=c_fit_y, box=(2500, 3532, 48, 760),
         xr=[18.63, 101.5], yr=[-2.2, 86.6], xt=pcs_ticks, yt=mfis_ticks,
         xtitle="SF-36 PCS (points)", ytitle="MFIS Score (points)",
         rho="Rho=-0.13 ((95%CI=\u22120.22\u2013\u22120.03), <i>P</i>=0.01", rho_at=(2524, 104), letter_at=(2474, 829)),
    dict(letter="D", x=d_x, y=d_y, fx=d_fit_x, fy=d_fit_y, box=(140, 1173, 908, 1620),
         xr=[19.1, 73.5], yr=[-1197, 42504], xt=mcs_ticks, yt=ipaq_ticks,
         xtitle="SF-36 MCS (points)", ytitle="IPAQ (Total MET)",
         rho="Rho=0.05 (95%CI=\u22120.05\u20130.14), <i>P</i>=0.32", rho_at=(166, 955), letter_at=(105, 1689)),
    dict(letter="E", x=e_x, y=e_y, fx=e_fit_x, fy=e_fit_y, box=(1320, 2353, 908, 1620),
         xr=[19.1, 73.5], yr=[-0.87, 30.9], xt=mcs_ticks, yt=phq_ticks,
         xtitle="SF-36 MCS (points)", ytitle="PHQ-9 (points)",
         rho="Rho=0.03 (95%CI=\u22120.06\u20130.13), <i>P</i>=0.52", rho_at=(1337, 956), letter_at=(1281, 1691)),
    dict(letter="F", x=f_x, y=f_y, fx=f_fit_x, fy=f_fit_y, box=(2500, 3532, 908, 1620),
         xr=[19.1, 73.5], yr=[-2.4, 86.4], xt=mcs_ticks, yt=mfis_ticks,
         xtitle="SF-36 MCS (points)", ytitle="MFIS Score (points)",
         rho="Rho=-0.04 (95%CI=\u22120.14\u20130.05), <i>P</i>=0.37", rho_at=(2524, 955), letter_at=(2459, 1689)),
]


def px(x):
    return x / W


def py(y):
    return 1 - y / H


fig = go.Figure()
shapes = [
    # light bluish-gray graph region
    dict(type="rect", xref="paper", yref="paper", x0=px(20), x1=px(3571), y0=py(1742), y1=py(18),
         fillcolor=PANEL_BG, line=dict(color="#d3d8db", width=2), layer="below"),
    # faint separators between the six graphs
    dict(type="line", xref="paper", yref="paper", x0=px(1202), x1=px(1202), y0=py(1742), y1=py(18),
         line=dict(color="#f4f7f8", width=3), layer="below"),
    dict(type="line", xref="paper", yref="paper", x0=px(2384), x1=px(2384), y0=py(1742), y1=py(18),
         line=dict(color="#f4f7f8", width=3), layer="below"),
    dict(type="line", xref="paper", yref="paper", x0=px(20), x1=px(3571), y0=py(877), y1=py(877),
         line=dict(color="#f4f7f8", width=3), layer="below"),
]
annotations = []
tick_font = dict(family=FONT, size=27, color="#1e1e1e")
title_font = dict(family=FONT, size=28, color="#1e1e1e")

for i, p in enumerate(panels):
    n = "" if i == 0 else str(i + 1)
    x0, x1, y0, y1 = p["box"]
    shapes.append(dict(type="rect", xref="paper", yref="paper", x0=px(x0), x1=px(x1), y0=py(y1), y1=py(y0),
                       fillcolor="white", line=dict(width=0), layer="below"))

    fig.add_trace(go.Scatter(x=p["x"], y=p["y"], mode="markers", xaxis="x" + n, yaxis="y" + n,
                             marker=dict(color=NAVY, size=16, line=dict(width=0)), showlegend=False))
    fig.add_trace(go.Scatter(x=p["fx"], y=p["fy"], mode="lines", xaxis="x" + n, yaxis="y" + n,
                             line=dict(color=MAROON, width=2.5), showlegend=False))

    fig.layout["xaxis" + n] = dict(
        domain=[px(x0), px(x1)], range=p["xr"], anchor="y" + n,
        tickvals=p["xt"], ticktext=[str(v) for v in p["xt"]],
        showgrid=False, zeroline=False, showline=True, linecolor="#5c5c5c", linewidth=2.5,
        ticks="outside", ticklen=12, tickwidth=2, tickcolor="#5c5c5c", tickfont=tick_font,
        ticklabelstandoff=2)
    fig.layout["yaxis" + n] = dict(
        domain=[py(y1), py(y0)], range=p["yr"], anchor="x" + n,
        tickvals=p["yt"], ticktext=[str(v) for v in p["yt"]],
        showgrid=True, gridcolor="#e3eaed", gridwidth=2, zeroline=False,
        showline=True, linecolor="#5c5c5c", linewidth=2.5,
        ticks="outside", ticklen=12, tickwidth=2, tickcolor="#5c5c5c",
        tickangle=-90, tickfont=tick_font, ticklabelstandoff=4)

    cx = (x0 + x1) / 2
    cy = (y0 + y1) / 2
    annotations += [
        dict(text=p["xtitle"], x=px(cx), y=py(y1 + 66), xref="paper", yref="paper",
             xanchor="center", yanchor="middle", showarrow=False, font=title_font),
        dict(text=p["ytitle"], x=px(x0 - 70), y=py(cy), xref="paper", yref="paper", textangle=-90,
             xanchor="center", yanchor="middle", showarrow=False, font=title_font),
        dict(text=p["rho"], x=px(p["rho_at"][0]), y=py(p["rho_at"][1]), xref="paper", yref="paper",
             xanchor="left", yanchor="middle", showarrow=False,
             font=dict(family=FONT, size=37, color="#111111")),
        dict(text="<b>" + p["letter"] + "</b>", x=px(p["letter_at"][0]), y=py(p["letter_at"][1]),
             xref="paper", yref="paper", xanchor="center", yanchor="middle", showarrow=False,
             font=dict(family=FONT, size=52, color="black")),
    ]

fig.update_layout(
    width=W, height=H, autosize=False,
    margin=dict(l=0, r=0, t=0, b=0),
    paper_bgcolor="white", plot_bgcolor="rgba(0,0,0,0)",
    shapes=shapes, annotations=annotations,
)

fig.write_html("out.html")
